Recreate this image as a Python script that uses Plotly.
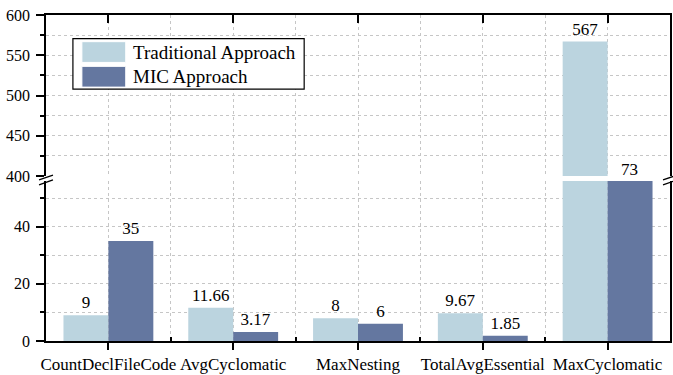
import plotly.graph_objects as go

categories = ["CountDeclFileCode", "AvgCyclomatic", "MaxNesting", "TotalAvgEssential", "MaxCyclomatic"]
traditional = [9, 11.66, 8, 9.67, 567]
mic = [35, 3.17, 6, 1.85, 73]
series_names = ["Traditional Approach", "MIC Approach"]

LOWER_RANGE = [0, 56]
UPPER_RANGE = [400, 600]

LIGHT = "#bbd4df"
DARK = "#6477a0"
FONT = "Liberation Serif"
GRID = "#c6c6c6"

W, H = 673, 375
ML, MR, MT, MB = 46, 1, 15, 30
PW, PH = W - ML - MR, H - MT - MB


def px_x(p):
    return (p - ML) / PW


def px_y(p):
    return (H - MB - p) / PH


def fmt(v):
    return f"{v:g}"


xs = list(range(len(categories)))
in_lower = lambda v: v <= LOWER_RANGE[1]
in_upper = lambda v: v >= UPPER_RANGE[0]

fig = go.Figure()
# lower panel
fig.add_trace(go.Bar(x=xs, y=traditional, xaxis="x", yaxis="y", marker=dict(color=LIGHT, line=dict(width=0)),
                     text=[fmt(v) if in_lower(v) else "" for v in traditional], textposition="outside",
                     constraintext="none", textfont=dict(family=FONT, size=17, color="black"),
                     name=series_names[0], showlegend=False))
fig.add_trace(go.Bar(x=xs, y=mic, xaxis="x", yaxis="y", marker=dict(color=DARK, line=dict(width=0)),
                     text=[fmt(v) if in_lower(v) else "" for v in mic], textposition="outside",
                     constraintext="none", textfont=dict(family=FONT, size=17, color="black"),
                     name=series_names[1], showlegend=False))
# upper panel
fig.add_trace(go.Bar(x=xs, y=traditional, xaxis="x2", yaxis="y2", marker=dict(color=LIGHT, line=dict(width=0)),
                     text=[fmt(v) if in_upper(v) else "" for v in traditional], textposition="outside",
                     constraintext="none", textfont=dict(family=FONT, size=17, color="black"),
                     name=series_names[0], showlegend=False))
fig.add_trace(go.Bar(x=xs, y=mic, xaxis="x2", yaxis="y2", marker=dict(color=DARK, line=dict(width=0)),
                     text=[fmt(v) if in_upper(v) else "" for v in mic], textposition="outside",
                     constraintext="none", textfont=dict(family=FONT, size=17, color="black"),
                     name=series_names[1], showlegend=False))

# labels for bars cut by the break
annotations = []
for i, v in enumerate(mic):
    if not in_lower(v) and not in_upper(v):
        annotations.append(dict(x=xs[i], y=UPPER_RANGE[0], xref="x2", yref="y2", text=fmt(v),
                                showarrow=False, yanchor="bottom", xshift=22, yshift=-5,
                                font=dict(family=FONT, size=17, color="black")))

lower_dom = [0, px_y(183)]
upper_dom = [px_y(178), 1]

grid_common = dict(showgrid=True, gridcolor=GRID, gridwidth=1, griddash="dot", zeroline=False)

fig.update_layout(
    width=W, height=H, margin=dict(l=ML, r=MR, t=MT, b=MB),
    paper_bgcolor="white", plot_bgcolor="white",
    barmode="group", bargap=0.28, bargroupgap=0,
    showlegend=False,
    font=dict(family=FONT, size=17, color="black"),
    xaxis=dict(domain=[0, 1], anchor="y", range=[-0.5, len(categories) - 0.5],
               tickmode="array", tickvals=xs, ticktext=categories,
               ticks="outside", ticklen=7, tickwidth=1.5, tickcolor="black",
               showline=True, linecolor="black", linewidth=2,
               tickfont=dict(family=FONT, size=17),
               minor=dict(tickvals=[x + 0.5 for x in xs[:-1]], ticks="inside", ticklen=4,
                          tickcolor="black", showgrid=True, gridcolor=GRID, griddash="dot"),
               **grid_common),
    xaxis2=dict(domain=[0, 1], anchor="y2", matches="x", side="top", range=[-0.5, len(categories) - 0.5],
                tickmode="array", tickvals=xs, showticklabels=False,
                ticks="inside", ticklen=8, tickwidth=1.5, tickcolor="black",
                showline=True, linecolor="black", linewidth=1.5,
                minor=dict(tickvals=[x + 0.5 for x in xs[:-1]], ticks="", showgrid=True,
                           gridcolor=GRID, griddash="dot"),
                **grid_common),
    yaxis=dict(domain=lower_dom, anchor="x", range=LOWER_RANGE, dtick=20, tick0=0,
               ticks="outside", ticklen=8, tickwidth=1.5, tickcolor="black",
               showline=True, linecolor="black", linewidth=1.5, mirror=True,
               tickfont=dict(family=FONT, size=16), ticklabelstandoff=3,
               minor=dict(dtick=10, ticks="outside", ticklen=4, tickcolor="black",
                          showgrid=True, gridcolor=GRID, griddash="dot"),
               **grid_common),
    yaxis2=dict(domain=upper_dom, anchor="x2", range=UPPER_RANGE, dtick=50, tick0=400,
                ticks="outside", ticklen=8, tickwidth=1.5, tickcolor="black",
                showline=True, linecolor="black", linewidth=1.5, mirror=True,
                tickfont=dict(family=FONT, size=16), ticklabelstandoff=3,
                minor=dict(dtick=25, ticks="outside", ticklen=4, tickcolor="black",
                           showgrid=True, gridcolor=GRID, griddash="dot"),
                **grid_common),
    yaxis3=dict(domain=lower_dom, anchor="x", overlaying="y", side="right", matches="y",
                range=LOWER_RANGE, dtick=20, tick0=0, showticklabels=False, showgrid=False,
                zeroline=False, ticks="inside", ticklen=4, tickwidth=1.5, tickcolor="black",
                minor=dict(dtick=10, ticks="inside", ticklen=4, tickcolor="black")),
    yaxis4=dict(domain=upper_dom, anchor="x2", overlaying="y2", side="right", matches="y2",
                range=UPPER_RANGE, dtick=50, tick0=400, showticklabels=False, showgrid=False,
                zeroline=False, ticks="inside", ticklen=4, tickwidth=1.5, tickcolor="black",
                minor=dict(dtick=25, ticks="inside", ticklen=4, tickcolor="black")),
    annotations=annotations,
)

shapes = []
# axis break marks
for cx in (ML, W - MR):
    for dy in (0, 5):
        shapes.append(dict(type="line", xref="paper", yref="paper",
                           x0=px_x(cx - 7), y0=px_y(182 + dy), x1=px_x(cx + 7), y1=px_y(177 + dy),
                           line=dict(color="black", width=1.3)))
# legend box
shapes.append(dict(type="rect", xref="paper", yref="paper", x0=px_x(73), x1=px_x(305),
                   y0=px_y(90), y1=px_y(39), line=dict(color="black", width=1.2), fillcolor="white", layer="above"))
swatch_rows = [(42, 63), (67, 88)]
for (t, b), col, name in zip(swatch_rows, [LIGHT, DARK], series_names):
    shapes.append(dict(type="rect", xref="paper", yref="paper", x0=px_x(82), x1=px_x(126),
                       y0=px_y(b), y1=px_y(t), line=dict(color="white", width=1), fillcolor=col, layer="above"))
    fig.add_annotation(x=px_x(131), y=px_y((t + b) / 2), xref="paper", yref="paper", text=name,
                       showarrow=False, xanchor="left", yanchor="middle",
                       font=dict(family=FONT, size=19, color="black"))
fig.update_layout(shapes=shapes)

post = (
    "document.documentElement.style.margin='0px';document.body.style.margin='0px';"
    "document.documentElement.style.overflow='hidden';document.body.style.overflow='hidden';"
    "var gd=document.getElementById('{plot_id}');"
    "var w=window.innerWidth, h=window.innerHeight;"
    "if(w>100 && h>100){gd.style.width=w+'px';gd.style.height=h+'px';"
    "Plotly.relayout(gd,{width:w,height:h});}"
)
fig.write_html("out.html", config={"displayModeBar": False}, post_script=post)
